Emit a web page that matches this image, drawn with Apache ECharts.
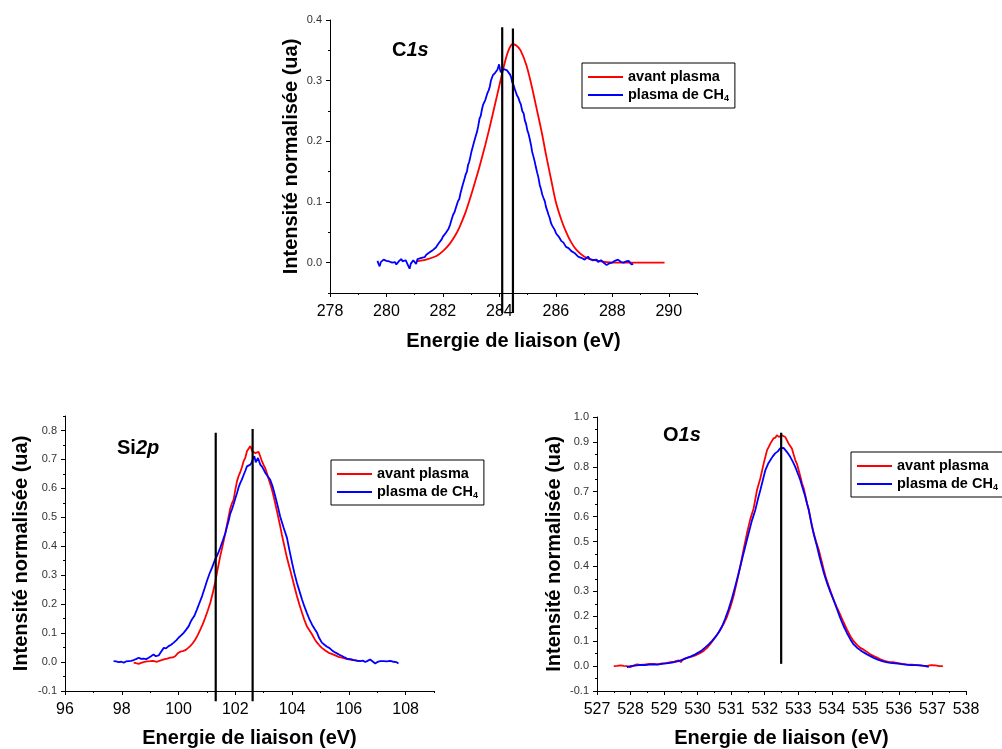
<!DOCTYPE html>
<html>
<head>
<meta charset="utf-8">
<script src="https://cdn.jsdelivr.net/npm/echarts@6/dist/echarts.min.js"></script>
<style>
html,body{margin:0;padding:0;background:#fff;}
#chart{width:1002px;height:749px;}
</style>
</head>
<body>
<div id="chart"></div>
<script>
// ---------- DATA ----------
const seriesNames = ['avant plasma', 'plasma de CH4'];
const xTitle = 'Energie de liaison (eV)';
const yTitle = 'Intensité normalisée (ua)';

// C1s
const c1sRed = [[281.06,0.002],[281.4,0.005],[281.77,0.011],[282.0,0.019],[282.24,0.031],[282.45,0.046],[282.6,0.060],[282.8,0.083],[282.95,0.104],[283.15,0.135],[283.3,0.159],[283.5,0.194],[283.66,0.224],[283.85,0.262],[284.0,0.292],[284.15,0.322],[284.3,0.347],[284.46,0.360],[284.6,0.358],[284.75,0.350],[284.96,0.325],[285.15,0.290],[285.3,0.258],[285.5,0.215],[285.66,0.176],[285.85,0.133],[286.0,0.100],[286.2,0.070],[286.37,0.050],[286.55,0.033],[286.73,0.021],[287.0,0.010],[287.2,0.006],[287.5,0.003],[287.8,0.001],[288.3,0],[289.0,0],[289.85,0]];
const c1sBlue = [[279.68,0.003],[279.72,-0.002],[279.76,-0.006],[279.8,0.001],[279.85,0.004],[279.9,0.005],[279.95,0.005],[280.0,0.003],[280.05,0.004],[280.1,0.002],[280.15,0.003],[280.2,0.000],[280.25,-0.001],[280.3,0.001],[280.35,-0.003],[280.4,0.000],[280.45,0.003],[280.5,0.005],[280.53,0.006],[280.57,0.002],[280.6,0.001],[280.64,0.005],[280.68,0.004],[280.72,0.000],[280.76,-0.004],[280.8,-0.002],[280.82,-0.010],[280.86,-0.002],[280.9,0.001],[280.95,0.004],[281.0,0.002],[281.05,-0.002],[281.1,0.006],[281.17,0.007],[281.24,0.008],[281.3,0.006],[281.35,0.009],[281.41,0.013],[281.47,0.011],[281.53,0.017],[281.59,0.019],[281.65,0.021],[281.7,0.020],[281.75,0.025],[281.8,0.027],[281.85,0.032],[281.9,0.030],[281.95,0.038],[282.0,0.043],[282.05,0.042],[282.1,0.049],[282.15,0.052],[282.2,0.056],[282.25,0.062],[282.3,0.070],[282.36,0.079],[282.41,0.083],[282.47,0.092],[282.53,0.101],[282.58,0.105],[282.62,0.114],[282.66,0.117],[282.7,0.128],[282.74,0.130],[282.77,0.139],[282.81,0.146],[282.85,0.150],[282.89,0.161],[282.93,0.166],[282.97,0.174],[283.01,0.183],[283.05,0.186],[283.09,0.197],[283.13,0.200],[283.17,0.210],[283.21,0.216],[283.25,0.225],[283.3,0.238],[283.34,0.242],[283.38,0.252],[283.42,0.260],[283.46,0.263],[283.5,0.268],[283.54,0.271],[283.58,0.280],[283.62,0.284],[283.66,0.290],[283.7,0.300],[283.74,0.303],[283.77,0.309],[283.81,0.310],[283.85,0.313],[283.89,0.315],[283.93,0.318],[283.96,0.321],[283.99,0.327],[284.02,0.319],[284.05,0.314],[284.09,0.312],[284.12,0.317],[284.16,0.319],[284.19,0.316],[284.23,0.320],[284.27,0.317],[284.31,0.315],[284.34,0.316],[284.38,0.310],[284.42,0.305],[284.45,0.298],[284.5,0.293],[284.54,0.287],[284.58,0.284],[284.62,0.276],[284.67,0.272],[284.72,0.265],[284.76,0.261],[284.81,0.250],[284.86,0.246],[284.9,0.235],[284.95,0.228],[284.99,0.218],[285.03,0.213],[285.07,0.205],[285.12,0.194],[285.16,0.183],[285.2,0.176],[285.25,0.167],[285.29,0.158],[285.34,0.148],[285.38,0.141],[285.43,0.128],[285.47,0.122],[285.52,0.112],[285.56,0.107],[285.61,0.101],[285.65,0.092],[285.7,0.085],[285.74,0.079],[285.78,0.074],[285.83,0.065],[285.87,0.061],[285.92,0.058],[285.96,0.054],[286.01,0.048],[286.05,0.046],[286.1,0.043],[286.14,0.041],[286.19,0.036],[286.23,0.034],[286.27,0.033],[286.31,0.030],[286.36,0.026],[286.4,0.027],[286.45,0.024],[286.49,0.024],[286.55,0.019],[286.6,0.020],[286.66,0.016],[286.73,0.016],[286.79,0.010],[286.85,0.012],[286.9,0.008],[286.96,0.010],[287.02,0.005],[287.08,0.008],[287.14,0.010],[287.2,0.006],[287.25,0.003],[287.3,0.004],[287.37,0.007],[287.44,0.005],[287.5,0.001],[287.55,0.002],[287.6,0.004],[287.67,0.002],[287.72,-0.001],[287.76,-0.002],[287.8,-0.004],[287.85,-0.006],[287.9,-0.001],[287.94,0.001],[287.99,0.000],[288.03,0.000],[288.09,0.003],[288.15,0.002],[288.2,0.005],[288.26,0.004],[288.31,0.001],[288.35,-0.001],[288.4,0.000],[288.44,-0.003],[288.48,0.002],[288.53,0.001],[288.58,0.003],[288.62,0.002],[288.68,-0.003],[288.74,-0.002]];
const c1sRefX = [284.1, 284.48];
const c1sRefTop = [0.388, 0.386];
const c1sRefBottom = -0.083;

// Si2p
const si2pRed = [[98.42,-0.002],[98.5,-0.004],[98.6,-0.006],[98.68,-0.003],[98.77,0],[98.88,0.002],[99.0,0.003],[99.1,0.004],[99.24,0.001],[99.35,0.005],[99.48,0.009],[99.6,0.012],[99.71,0.015],[99.8,0.016],[99.89,0.021],[99.97,0.030],[100.06,0.036],[100.15,0.038],[100.24,0.041],[100.33,0.048],[100.41,0.055],[100.5,0.065],[100.59,0.078],[100.68,0.094],[100.77,0.113],[100.85,0.130],[100.94,0.153],[101.03,0.178],[101.12,0.205],[101.21,0.240],[101.3,0.28],[101.38,0.322],[101.47,0.366],[101.56,0.405],[101.65,0.446],[101.74,0.490],[101.82,0.530],[101.88,0.548],[101.94,0.561],[102.0,0.595],[102.06,0.625],[102.11,0.641],[102.17,0.655],[102.23,0.672],[102.29,0.693],[102.35,0.705],[102.41,0.728],[102.47,0.730],[102.53,0.746],[102.56,0.738],[102.6,0.728],[102.65,0.730],[102.7,0.722],[102.76,0.725],[102.82,0.726],[102.88,0.710],[102.94,0.693],[103.0,0.680],[103.06,0.668],[103.11,0.653],[103.2,0.625],[103.29,0.596],[103.38,0.560],[103.47,0.520],[103.58,0.470],[103.64,0.440],[103.73,0.400],[103.82,0.360],[103.91,0.327],[104.0,0.293],[104.08,0.262],[104.17,0.228],[104.26,0.198],[104.35,0.170],[104.43,0.146],[104.52,0.124],[104.61,0.110],[104.7,0.096],[104.79,0.080],[104.88,0.067],[104.96,0.058],[105.05,0.049],[105.17,0.040],[105.29,0.032],[105.4,0.028],[105.52,0.023],[105.64,0.018],[105.76,0.015],[105.88,0.012],[105.99,0.009],[106.11,0.008],[106.23,0.006],[106.32,0.004],[106.4,0.003]];
const si2pBlue = [[97.71,0.003],[97.8,0.002],[97.89,0],[97.98,0.001],[98.07,-0.002],[98.15,0.002],[98.24,0.003],[98.33,0.004],[98.42,0.007],[98.5,0.010],[98.6,0.015],[98.68,0.011],[98.77,0.012],[98.86,0.010],[98.95,0.015],[99.03,0.020],[99.12,0.026],[99.2,0.020],[99.3,0.023],[99.38,0.035],[99.48,0.049],[99.56,0.047],[99.65,0.055],[99.74,0.060],[99.83,0.067],[99.92,0.075],[100.0,0.084],[100.09,0.092],[100.18,0.101],[100.27,0.112],[100.36,0.124],[100.42,0.138],[100.47,0.147],[100.56,0.160],[100.65,0.182],[100.74,0.205],[100.83,0.228],[100.92,0.255],[101.0,0.28],[101.09,0.305],[101.18,0.326],[101.27,0.350],[101.35,0.366],[101.41,0.380],[101.47,0.395],[101.56,0.420],[101.65,0.446],[101.71,0.469],[101.77,0.490],[101.82,0.512],[101.88,0.527],[101.94,0.545],[102.0,0.565],[102.06,0.584],[102.12,0.605],[102.18,0.620],[102.23,0.630],[102.3,0.648],[102.35,0.660],[102.41,0.676],[102.47,0.680],[102.53,0.682],[102.58,0.690],[102.62,0.702],[102.67,0.711],[102.72,0.690],[102.76,0.688],[102.8,0.705],[102.84,0.700],[102.88,0.682],[102.94,0.675],[103.0,0.665],[103.06,0.653],[103.14,0.642],[103.23,0.630],[103.32,0.605],[103.41,0.572],[103.5,0.537],[103.58,0.503],[103.7,0.465],[103.82,0.429],[103.91,0.385],[104.0,0.343],[104.08,0.308],[104.17,0.274],[104.26,0.245],[104.35,0.216],[104.43,0.193],[104.52,0.170],[104.61,0.148],[104.7,0.130],[104.79,0.115],[104.88,0.101],[104.96,0.082],[105.05,0.067],[105.14,0.060],[105.23,0.053],[105.31,0.049],[105.4,0.041],[105.49,0.035],[105.58,0.030],[105.67,0.025],[105.76,0.021],[105.85,0.016],[105.93,0.012],[106.05,0.010],[106.17,0.007],[106.28,0.005],[106.4,0.003],[106.49,0.005],[106.58,0],[106.66,0.004],[106.75,0.009],[106.84,0.002],[106.93,-0.005],[107.02,0.001],[107.1,0.003],[107.22,0.003],[107.34,0.002],[107.46,0.004],[107.58,0.001],[107.67,0.000],[107.75,-0.005]];
const si2pRefX = [101.31, 102.61];
const si2pRefTop = [0.792, 0.805];
const si2pRefBottom = -0.135;

// O1s
const o1sRed = [[527.5,0],[527.6,0.001],[527.7,0.003],[527.8,0.001],[527.89,0],[527.99,-0.004],[528.09,0.002],[528.19,0.007],[528.3,0.005],[528.44,0.007],[528.56,0.009],[528.69,0.009],[528.8,0.007],[528.94,0.011],[529.06,0.012],[529.19,0.016],[529.3,0.018],[529.43,0.023],[529.5,0.016],[529.56,0.027],[529.68,0.033],[529.8,0.037],[529.93,0.043],[530.08,0.053],[530.18,0.061],[530.28,0.073],[530.38,0.089],[530.48,0.107],[530.58,0.126],[530.68,0.147],[530.78,0.171],[530.88,0.2],[530.98,0.238],[531.07,0.28],[531.17,0.338],[531.27,0.4],[531.37,0.468],[531.47,0.533],[531.57,0.59],[531.67,0.634],[531.77,0.707],[531.87,0.754],[531.97,0.814],[532.07,0.867],[532.12,0.88],[532.17,0.894],[532.22,0.896],[532.26,0.914],[532.32,0.917],[532.36,0.927],[532.42,0.92],[532.46,0.928],[532.51,0.927],[532.56,0.931],[532.61,0.92],[532.66,0.918],[532.71,0.894],[532.76,0.886],[532.81,0.874],[532.86,0.85],[532.91,0.827],[532.96,0.812],[533.01,0.787],[533.06,0.762],[533.11,0.734],[533.16,0.715],[533.21,0.685],[533.26,0.654],[533.31,0.627],[533.38,0.58],[533.46,0.533],[533.53,0.5],[533.61,0.467],[533.68,0.43],[533.76,0.387],[533.83,0.352],[533.91,0.32],[533.98,0.293],[534.05,0.267],[534.15,0.236],[534.25,0.207],[534.35,0.176],[534.45,0.147],[534.55,0.121],[534.65,0.1],[534.75,0.085],[534.85,0.073],[534.95,0.066],[535.05,0.057],[535.15,0.047],[535.25,0.04],[535.35,0.034],[535.45,0.027],[535.57,0.021],[535.69,0.017],[535.82,0.016],[535.94,0.013],[536.09,0.009],[536.24,0.007],[536.39,0.006],[536.54,0.004],[536.69,0.002],[536.84,0.001],[536.96,0.004],[537.09,0.003],[537.2,0.000],[537.31,0]];
const o1sBlue = [[527.89,-0.004],[528.0,0.000],[528.19,0.003],[528.3,0.005],[528.44,0.004],[528.56,0.006],[528.69,0.007],[528.8,0.006],[528.94,0.009],[529.06,0.011],[529.19,0.013],[529.3,0.016],[529.43,0.02],[529.56,0.026],[529.68,0.033],[529.8,0.039],[529.93,0.047],[530.03,0.055],[530.13,0.064],[530.23,0.075],[530.33,0.087],[530.43,0.101],[530.53,0.117],[530.63,0.136],[530.73,0.16],[530.82,0.19],[530.92,0.227],[531.02,0.27],[531.12,0.32],[531.22,0.372],[531.32,0.427],[531.42,0.48],[531.52,0.533],[531.62,0.585],[531.72,0.627],[531.8,0.672],[531.87,0.707],[531.95,0.75],[532.02,0.787],[532.1,0.812],[532.17,0.827],[532.24,0.842],[532.31,0.854],[532.39,0.862],[532.46,0.874],[532.51,0.872],[532.56,0.876],[532.61,0.868],[532.66,0.86],[532.71,0.85],[532.76,0.84],[532.84,0.82],[532.91,0.8],[532.98,0.775],[533.06,0.747],[533.13,0.715],[533.21,0.68],[533.26,0.653],[533.31,0.63],[533.41,0.56],[533.48,0.52],[533.56,0.48],[533.63,0.44],[533.71,0.4],[533.78,0.366],[533.86,0.333],[533.95,0.3],[534.05,0.267],[534.15,0.23],[534.25,0.193],[534.35,0.161],[534.45,0.133],[534.55,0.108],[534.65,0.087],[534.75,0.074],[534.85,0.064],[534.95,0.055],[535.05,0.047],[535.15,0.04],[535.25,0.033],[535.37,0.026],[535.5,0.02],[535.62,0.016],[535.74,0.013],[535.89,0.011],[536.04,0.009],[536.19,0.006],[536.34,0.004],[536.49,0.004],[536.64,0.003],[536.76,0.001],[536.89,-0.003]];
const o1sRefX = [532.49];
const o1sRefTop = [0.937];
const o1sRefBottom = 0.009;

// tick values
const c1sXMajor = [278,280,282,284,286,288,290];
const c1sXMinor = [279,281,283,285,287,289,291];
const c1sYMajor = [0,0.1,0.2,0.3,0.4];
const c1sYMinor = [-0.05,0.05,0.15,0.25,0.35];
const si2pXMajor = [96,98,100,102,104,106,108];
const si2pXMinor = [97,99,101,103,105,107,109];
const si2pYMajor = [-0.1,0,0.1,0.2,0.3,0.4,0.5,0.6,0.7,0.8];
const si2pYMinor = [-0.05,0.05,0.15,0.25,0.35,0.45,0.55,0.65,0.75,0.85];
const o1sXMajor = [527,528,529,530,531,532,533,534,535,536,537,538];
const o1sXMinor = [527.5,528.5,529.5,530.5,531.5,532.5,533.5,534.5,535.5,536.5,537.5];
const o1sYMajor = [-0.1,0,0.1,0.2,0.3,0.4,0.5,0.6,0.7,0.8,0.9,1.0];
const o1sYMinor = [-0.05,0.05,0.15,0.25,0.35,0.45,0.55,0.65,0.75,0.85,0.95];

// ---------- BUILD ----------
const FONT = 'Arial, "Liberation Sans", sans-serif';
const panels = [
  {grid:{left:330,top:20,width:367,height:273}, x:[278,291,1], y:[-0.05,0.4,0.05],
   xMaj:c1sXMajor, xMin:c1sXMinor, yMaj:c1sYMajor, yMin:c1sYMinor,
   red:c1sRed, blue:c1sBlue, refX:c1sRefX, refTop:c1sRefTop, refBottom:c1sRefBottom,
   yGap:29, xGap:38, label:{text:'C{i|1s}', left:392, top:40}, legend:{left:582, top:63}},
  {grid:{left:65,top:416,width:369,height:276}, x:[96,109,1], y:[-0.1,0.85,0.05],
   xMaj:si2pXMajor, xMin:si2pXMinor, yMaj:si2pYMajor, yMin:si2pYMinor,
   red:si2pRed, blue:si2pBlue, refX:si2pRefX, refTop:si2pRefTop, refBottom:si2pRefBottom,
   yGap:34, xGap:37, label:{text:'Si{i|2p}', left:117, top:438}, legend:{left:331, top:460}},
  {grid:{left:597,top:417,width:369,height:275}, x:[527,538,0.5], y:[-0.1,1.0,0.05],
   xMaj:o1sXMajor, xMin:o1sXMinor, yMaj:o1sYMajor, yMin:o1sYMinor,
   red:o1sRed, blue:o1sBlue, refX:o1sRefX, refTop:o1sRefTop, refBottom:o1sRefBottom,
   yGap:33, xGap:37, label:{text:'O{i|1s}', left:663, top:425}, legend:{left:851, top:452}}
];

const option = {
  animation:false,
  backgroundColor:'#fff',
  textStyle:{fontFamily:FONT},
  grid:[], xAxis:[], yAxis:[], series:[], legend:[], title:[]
};

const axisLineStyle = {show:true, onZero:false, lineStyle:{color:'#000', width:1}};

panels.forEach((p, i) => {
  option.grid.push(Object.assign({containLabel:false}, p.grid));
  option.xAxis.push({
    gridIndex:i, type:'value', position:'bottom', min:p.x[0], max:p.x[1], interval:p.x[2],
    axisLine:axisLineStyle,
    axisTick:{show:true, inside:false, length:4, customValues:p.xMaj, lineStyle:{color:'#000'}},
    axisLabel:{customValues:p.xMaj, fontSize:16, color:'#000', margin:11, fontFamily:FONT},
    splitLine:{show:false},
    name:xTitle, nameLocation:'middle', nameGap:p.xGap,
    nameTextStyle:{fontSize:20, fontWeight:'bold', color:'#000', fontFamily:FONT}
  });
  option.yAxis.push({
    gridIndex:i, type:'value', position:'left', min:p.y[0], max:p.y[1], interval:p.y[2],
    axisLine:axisLineStyle,
    axisTick:{show:true, inside:false, length:4, customValues:p.yMaj, lineStyle:{color:'#000'}},
    axisLabel:{customValues:p.yMaj, fontSize:11, color:'#333', margin:8, fontFamily:FONT,
      formatter:v => v.toFixed(1)},
    splitLine:{show:false},
    name:yTitle, nameLocation:'middle', nameGap:p.yGap, nameRotate:90,
    nameTextStyle:{fontSize:20, fontWeight:'bold', color:'#000', fontFamily:FONT}
  });
});
// minor tick axes
panels.forEach((p, i) => {
  option.xAxis.push({
    gridIndex:i, type:'value', position:'bottom', min:p.x[0], max:p.x[1], interval:p.x[2],
    axisLine:{show:false, onZero:false},
    axisTick:{show:true, inside:false, length:2, customValues:p.xMin, lineStyle:{color:'#000'}},
    axisLabel:{show:false}, splitLine:{show:false}
  });
  option.yAxis.push({
    gridIndex:i, type:'value', position:'left', min:p.y[0], max:p.y[1], interval:p.y[2],
    axisLine:{show:false, onZero:false},
    axisTick:{show:true, inside:false, length:2, customValues:p.yMin, lineStyle:{color:'#000'}},
    axisLabel:{show:false}, splitLine:{show:false}
  });
});

panels.forEach((p, i) => {
  option.series.push({
    name:seriesNames[0], type:'line', xAxisIndex:i, yAxisIndex:i, data:p.red,
    symbol:'none', showSymbol:false, smooth:i === 0 ? 0.3 : false,
    lineStyle:{color:'#ff0000', width:1.8}, itemStyle:{color:'#ff0000'}, z:2
  });
  option.series.push({
    name:seriesNames[1], type:'line', xAxisIndex:i, yAxisIndex:i, data:p.blue,
    symbol:'none', showSymbol:false,
    lineStyle:{color:'#0000ff', width:1.8}, itemStyle:{color:'#0000ff'}, z:3
  });
  p.refX.forEach((rx, k) => {
    option.series.push({
      name:'ref', type:'line', xAxisIndex:i, yAxisIndex:i,
      data:[[rx, p.refBottom], [rx, p.refTop[k]]],
      symbol:'none', clip:false, silent:true,
      lineStyle:{color:'#000', width:2.2}, z:4
    });
  });
  option.legend.push({
    data:seriesNames, orient:'vertical', left:p.legend.left, top:p.legend.top,
    padding:[6,6,5,6], itemWidth:35, itemHeight:2, itemGap:2, icon:'rect',
    borderColor:'#000', borderWidth:1, backgroundColor:'#fff', selectedMode:false,
    formatter:n => n.replace('CH4', 'CH{sub|4}'),
    textStyle:{fontSize:14.5, fontWeight:'bold', color:'#000', fontFamily:FONT, lineHeight:16,
      rich:{sub:{fontSize:9, fontWeight:'bold', color:'#000', fontFamily:FONT, verticalAlign:'bottom', lineHeight:12}}}
  });
  option.title.push({
    text:p.label.text, left:p.label.left, top:p.label.top, padding:0,
    textStyle:{fontSize:20, fontWeight:'bold', color:'#000', fontFamily:FONT, lineHeight:20,
      rich:{i:{fontSize:20, fontWeight:'bold', fontStyle:'italic', color:'#000', fontFamily:FONT, lineHeight:20}}}
  });
});

const chart = echarts.init(document.getElementById('chart'), null, {renderer:'canvas'});
chart.setOption(option);
</script>
</body>
</html>
